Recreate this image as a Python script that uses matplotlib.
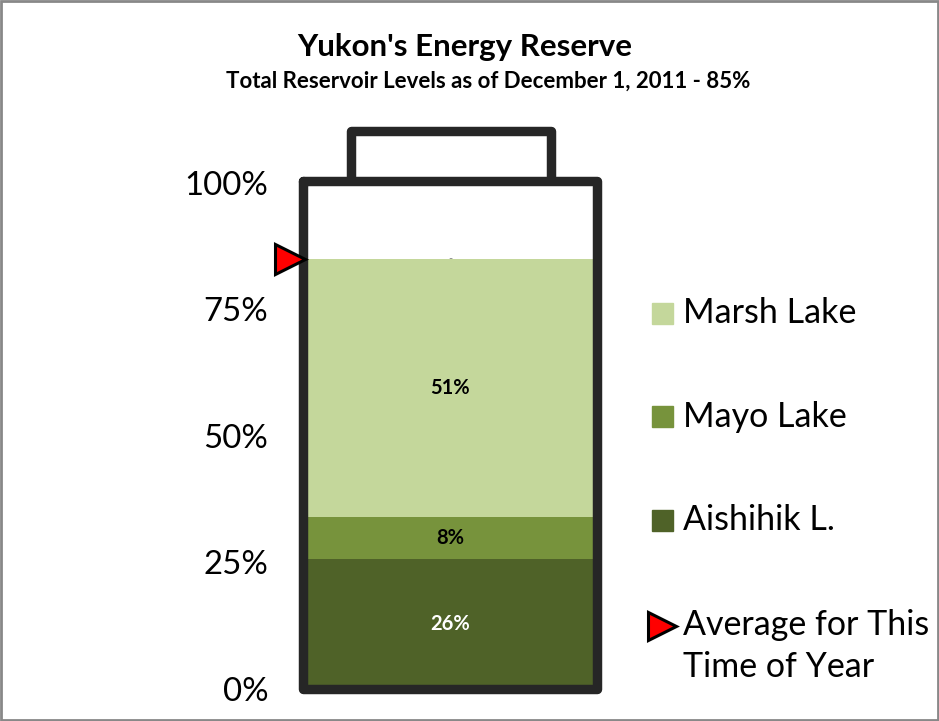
import matplotlib.pyplot as plt
from matplotlib.patches import Rectangle
from matplotlib.lines import Line2D

plt.rcParams['font.family'] = ['Lato', 'DejaVu Sans']

# data
lakes = ['Aishihik L.', 'Mayo Lake', 'Marsh Lake']
levels = [25.6, 8.4, 51.0]
level_labels = ['26%', '8%', '51%']
average_level = 85.0
yticks = [0, 25, 50, 75, 100]
ytick_labels = ['0%', '25%', '50%', '75%', '100%']

colors = ['#4F6228', '#77933C', '#C4D79B']
label_colors = ['white', 'black', 'black']
outline = '#262626'

W, H = 939, 721
fig = plt.figure(figsize=(W / 100, H / 100), dpi=100)
ax = fig.add_axes([303 / W, 32 / H, 294 / W, 506 / H])

bottom = 0
for val, lab, c, tc in zip(levels, level_labels, colors, label_colors):
    ax.bar(0, val, width=1, bottom=bottom, color=c, zorder=1)
    ax.text(0, bottom + val / 2, lab, ha='center', va='center',
            fontsize=14.5, fontweight='bold', color=tc, zorder=3)
    bottom += val

# tiny dash label at the top of the stack
ax.text(0, bottom, '-', ha='center', va='center', fontsize=8, color='#808080')

# battery outline
body = Line2D([-0.5, -0.5, 0.5, 0.5, -0.5], [100.4, 0, 0, 100.4, 100.4],
              color=outline, lw=6.8, solid_joinstyle='round', solid_capstyle='round',
              clip_on=False, zorder=4)
cap = Line2D([-0.337, -0.337, 0.343, 0.343], [100.4, 110.3, 110.3, 100.4],
             color=outline, lw=6.8, solid_joinstyle='round', solid_capstyle='butt',
             clip_on=False, zorder=4)
ax.add_line(body)
ax.add_line(cap)

# average marker
ax.plot([-0.545], [average_level], marker='>', markersize=21, color='red',
        markeredgecolor='black', markeredgewidth=2.2, clip_on=False, zorder=5)

ax.set_xlim(-0.5, 0.5)
ax.set_ylim(0, 100)
ax.set_yticks(yticks)
ax.set_yticklabels(ytick_labels, fontsize=23.8)
ax.tick_params(axis='y', length=0, pad=25)
ax.set_xticks([])
for s in ax.spines.values():
    s.set_visible(False)

fig.text(465 / W, 1 - 47 / H, "Yukon's Energy Reserve", ha='center', va='center',
         fontsize=22.5, fontweight='bold')
fig.text(488 / W, 1 - 81 / H, 'Total Reservoir Levels as of December 1, 2011 - 85%',
         ha='center', va='center', fontsize=16, fontweight='bold')

# legend drawn by hand
leg_y = [313, 417, 520]
for name, c, y in zip(lakes[::-1], colors[::-1], leg_y):
    fig.patches.append(Rectangle((652 / W, 1 - (y + 10.5) / H), 21 / W, 21 / H,
                                 transform=fig.transFigure, color=c))
    fig.text(683 / W, 1 - y / H, name, ha='left', va='center', fontsize=24.5)
fig.add_artist(Line2D([662 / W], [1 - 626 / H], marker='>', markersize=20, color='red',
                      markeredgecolor='black', markeredgewidth=2.2,
                      transform=fig.transFigure))
fig.text(683 / W, 1 - 625 / H, 'Average for This', ha='left', va='center', fontsize=24.5)
fig.text(683 / W, 1 - 667 / H, 'Time of Year', ha='left', va='center', fontsize=24.5)

fig.patches.append(Rectangle((0.001, 0.001), 0.998, 0.997, transform=fig.transFigure,
                             fill=False, edgecolor='#888888', lw=2))

fig.savefig('out.png', dpi=100)
